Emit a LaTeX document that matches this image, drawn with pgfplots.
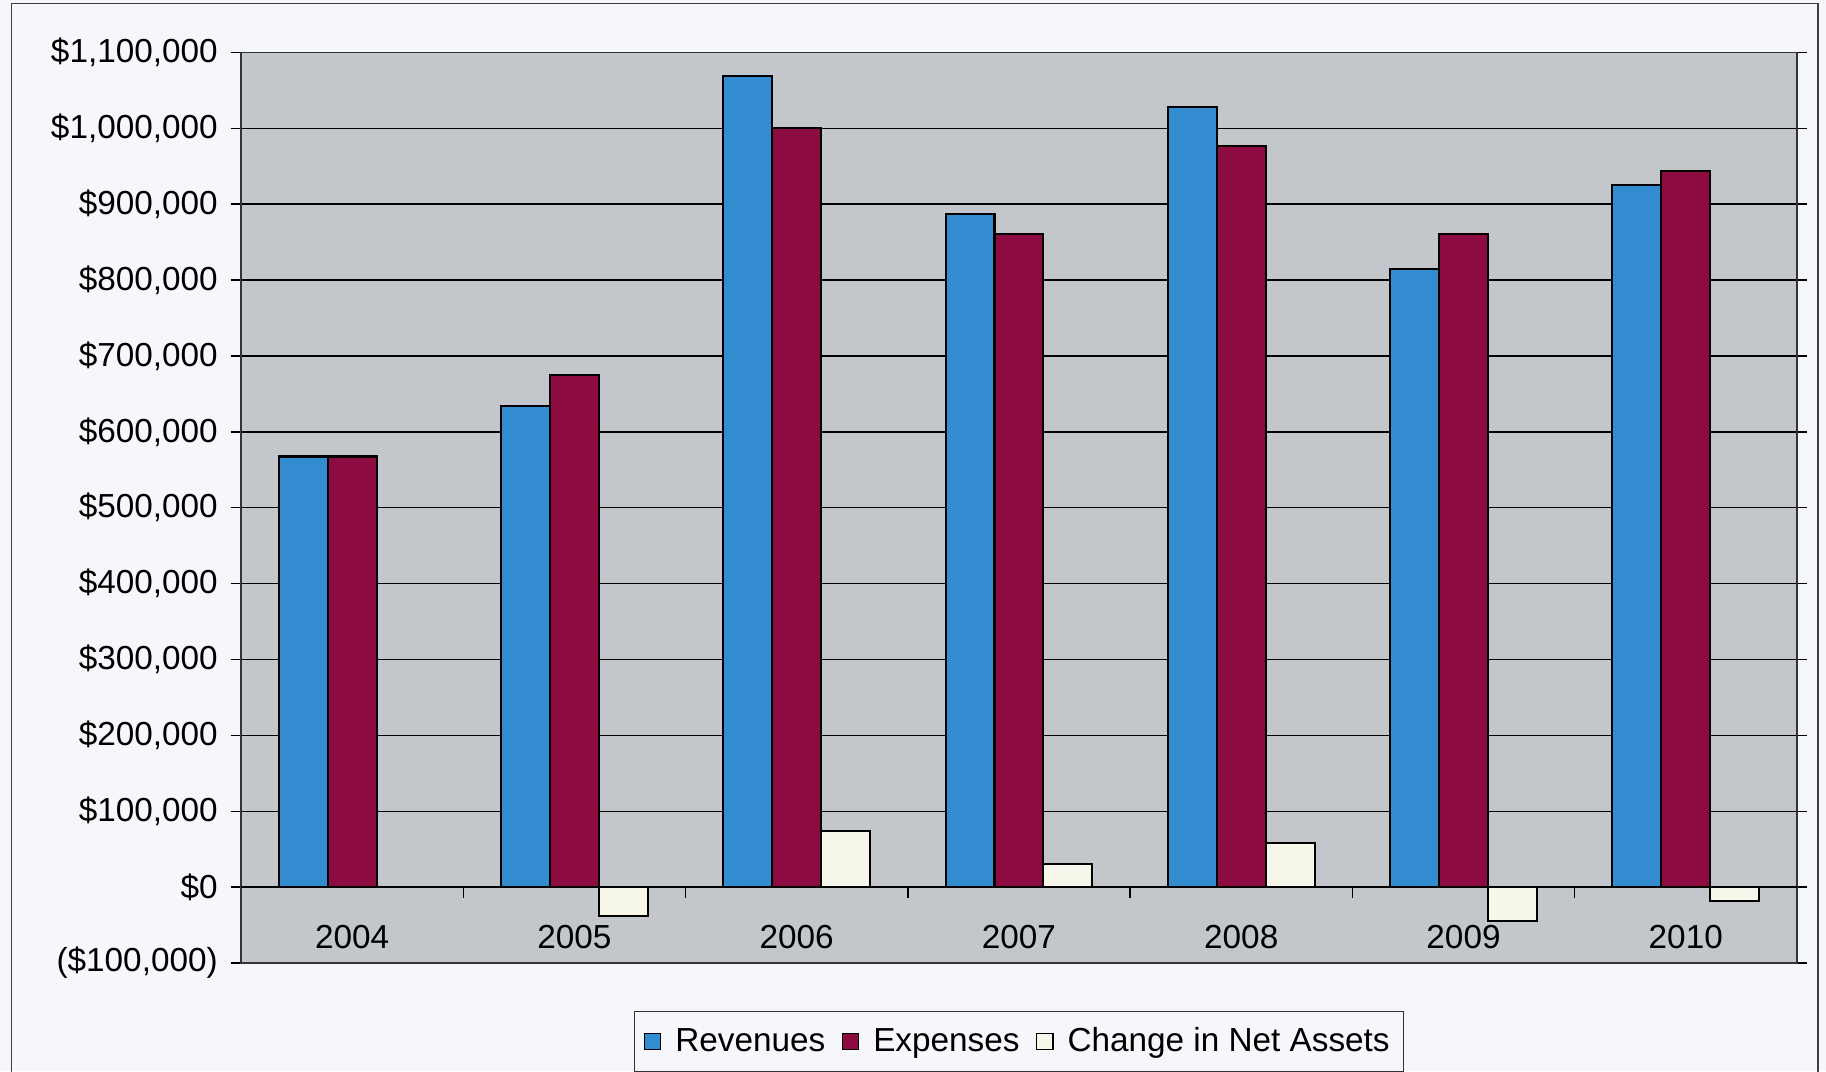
\documentclass[border=0pt]{standalone}
\usepackage{fontspec}
\setmainfont{Liberation Sans}
\usepackage{pgfplots}
\pgfplotsset{compat=1.18}

\definecolor{revblue}{RGB}{52,140,208}
\definecolor{expmaroon}{RGB}{140,12,66}
\definecolor{netivory}{RGB}{246,246,234}
\definecolor{plotgray}{RGB}{195,199,203}
\definecolor{paper}{RGB}{245,247,250}

\newcommand\chartfont{\fontsize{14.3}{17}\selectfont}

\begin{document}
\begin{tikzpicture}
  % page and outer frame
  \fill[paper] (0pt,0pt) rectangle (784pt,-460pt);
  \useasboundingbox (0pt,0pt) rectangle (784pt,-460pt);
  \draw[black!75, line width=0.6pt] (5pt,-1.5pt) rectangle (780.5pt,-475pt);

  \begin{axis}[
    at={(103.5pt,-413.5pt)}, anchor=south west,
    scale only axis, width=668pt, height=391pt,
    xmin=-0.5, xmax=6.5,
    ymin=-100000, ymax=1100000,
    ybar=0pt, bar width=0.22,
    axis background/.style={fill=plotgray},
    axis line style={black!80, line width=0.6pt},
    xtick={0,...,6},
    xticklabels={2004,2005,2006,2007,2008,2009,2010},
    xtick style={draw=none},
    xticklabel style={anchor=center, yshift=15.5pt},
    ytick={-100000,0,...,1100000},
    yticklabels={{(\$100,000)},{\$0},{\$100,000},{\$200,000},{\$300,000},{\$400,000},{\$500,000},{\$600,000},{\$700,000},{\$800,000},{\$900,000},{\$1,000,000},{\$1,100,000}},
    scaled y ticks=false,
    tick align=outside,
    major tick length=4.5pt,
    ytick style={black, line width=0.6pt},
    yticklabel style={xshift=-2pt},
    tick label style={font=\chartfont, text=black},
    ymajorgrids,
    grid style={black, line width=0.6pt},
    legend columns=3,
    legend style={at={(0.5,-0.0524)}, anchor=north, draw=black!80,
      line width=0.6pt, fill=paper, font=\chartfont,
      inner xsep=4pt, inner ysep=5pt,
      /tikz/every odd column/.append style={column sep=4pt},
      /tikz/every even column/.append style={column sep=5pt}},
    legend image code/.code={\draw[#1, line width=0.6pt] (0pt,-3.5pt) rectangle (7pt,3.5pt);},
    every axis plot/.append style={draw=black, line width=0.9pt},
  ]
    % zero line with category separators
    \draw[black, line width=0.9pt] (axis cs:-0.5,0) -- (axis cs:6.5,0);
    \pgfplotsinvokeforeach{0.5,1.5,2.5,3.5,4.5,5.5}{
      \draw[black, line width=0.6pt] (axis cs:#1,0) -- ([yshift=-4.6pt]axis cs:#1,0);
    }

    \addplot[fill=revblue] coordinates {
      (0,567500) (1,634600) (2,1069000) (3,887000) (4,1028000) (5,814000) (6,925000)};
    \addplot[fill=expmaroon] coordinates {
      (0,567500) (1,675000) (2,1000000) (3,861000) (4,977000) (5,861000) (6,943500)};
    \addplot[fill=netivory] coordinates {
      (1,-38000) (2,74000) (3,31000) (4,58000) (5,-45000) (6,-18000)};
    \legend{Revenues, Expenses, Change in Net Assets}
  \end{axis}
\end{tikzpicture}
\end{document}
